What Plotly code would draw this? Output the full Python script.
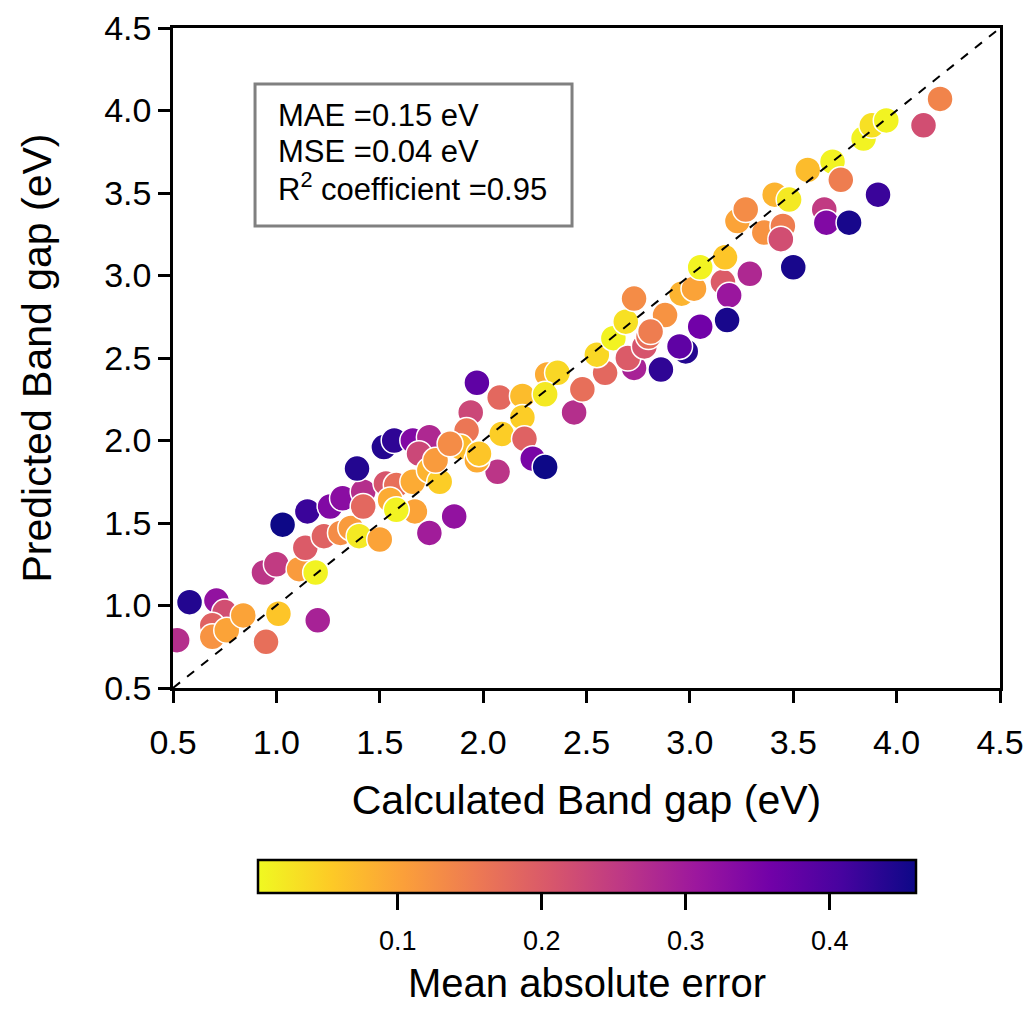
import plotly.graph_objects as go

# Calculated band gap (eV)
calc = [0.52, 0.58, 0.71, 0.75, 0.69, 0.69, 0.76, 0.84, 1.01, 0.95,
        1.20, 0.94, 1.00, 1.11, 1.19, 1.14, 1.23, 1.31, 1.36, 1.40,
        1.50, 1.03, 1.15, 1.26, 1.32, 1.42, 1.42, 1.39, 1.52, 1.57,
        1.66, 1.74, 1.69, 1.53, 1.58, 1.66, 1.74, 1.79, 1.67, 1.74,
        1.86, 1.55, 1.58, 1.97, 2.08, 1.94, 1.92, 2.19, 2.19, 2.31,
        2.36, 2.30, 2.09, 2.20, 2.07, 2.24, 2.30, 1.89, 1.97, 1.77,
        1.84, 1.98, 2.44, 2.48, 2.59, 2.55, 2.63, 2.69, 2.73, 2.88,
        2.96, 3.02, 3.16, 3.29, 3.19, 3.18, 3.05, 2.98, 2.95, 2.86,
        2.73, 2.70, 2.78, 2.80, 2.81, 3.05, 3.17, 3.23, 3.27, 3.36,
        3.45, 3.44, 3.50, 3.41, 3.48, 3.57, 3.69, 3.73, 3.91, 3.65,
        3.66, 3.77, 3.84, 3.88, 3.95, 4.13, 4.21]
# Predicted band gap (eV)
pred = [0.79, 1.02, 1.03, 0.96, 0.88, 0.81, 0.85, 0.94, 0.95, 0.78,
        0.91, 1.20, 1.25, 1.22, 1.20, 1.35, 1.42, 1.44, 1.47, 1.42,
        1.40, 1.49, 1.57, 1.60, 1.65, 1.69, 1.60, 1.83, 1.96, 2.00,
        2.00, 2.02, 1.92, 1.74, 1.73, 1.75, 1.82, 1.75, 1.57, 1.44,
        1.54, 1.64, 1.58, 2.35, 2.26, 2.17, 2.06, 2.27, 2.14, 2.40,
        2.41, 2.28, 2.04, 2.01, 1.81, 1.89, 1.84, 1.96, 1.88, 1.88,
        1.98, 1.92, 2.17, 2.31, 2.41, 2.52, 2.62, 2.72, 2.86, 2.76,
        2.89, 2.92, 2.96, 3.01, 2.88, 2.73, 2.69, 2.54, 2.57, 2.43,
        2.44, 2.50, 2.57, 2.63, 2.66, 3.05, 3.11, 3.33, 3.40, 3.26,
        3.30, 3.22, 3.05, 3.49, 3.46, 3.64, 3.69, 3.58, 3.49, 3.40,
        3.32, 3.32, 3.83, 3.91, 3.94, 3.91, 4.07]
# Mean absolute error (colour)
mae = [0.27, 0.44, 0.32, 0.22, 0.19, 0.12, 0.10, 0.10, 0.06, 0.17,
       0.29, 0.26, 0.25, 0.11, 0.01, 0.20, 0.19, 0.13, 0.11, 0.02,
       0.10, 0.46, 0.42, 0.34, 0.33, 0.27, 0.18, 0.44, 0.44, 0.43,
       0.34, 0.28, 0.23, 0.21, 0.17, 0.09, 0.08, 0.05, 0.10, 0.30,
       0.32, 0.09, 0.01, 0.38, 0.18, 0.23, 0.16, 0.07, 0.05, 0.09,
       0.04, 0.02, 0.05, 0.19, 0.26, 0.35, 0.46, 0.07, 0.09, 0.11,
       0.13, 0.06, 0.27, 0.17, 0.18, 0.04, 0.01, 0.03, 0.13, 0.12,
       0.08, 0.10, 0.20, 0.28, 0.31, 0.45, 0.36, 0.44, 0.38, 0.43,
       0.29, 0.20, 0.21, 0.17, 0.15, 0.01, 0.06, 0.10, 0.13, 0.12,
       0.15, 0.22, 0.45, 0.08, 0.02, 0.07, 0.01, 0.15, 0.42, 0.25,
       0.34, 0.45, 0.01, 0.03, 0.01, 0.22, 0.14]

axis_ticks = [0.5, 1.0, 1.5, 2.0, 2.5, 3.0, 3.5, 4.0, 4.5]
cbar_ticks = [0.1, 0.2, 0.3, 0.4]
diag = [0.5, 4.5]
CMIN, CMAX = 0.003, 0.46

FONT = "Liberation Sans, Arial, Helvetica, sans-serif"

CB_X, CB_LEN = 0.5006, 0.7957

fig = go.Figure()
fig.add_trace(go.Scatter(
    x=calc, y=pred, mode="markers",
    marker=dict(
        size=26, color=mae, colorscale="Plasma_r", cmin=CMIN, cmax=CMAX,
        line=dict(color="white", width=1.5), opacity=1,
        colorbar=dict(
            orientation="h", x=CB_X, xanchor="center", y=-0.2606, yanchor="top",
            len=CB_LEN, lenmode="fraction", thickness=33, thicknessmode="pixels",
            outlinewidth=2.5, outlinecolor="black", xpad=0, ypad=0,
            tickvals=cbar_ticks, showticklabels=False,
            ticks="outside", ticklen=16, tickwidth=2.5, tickcolor="black",
        ),
    ),
    showlegend=False, hoverinfo="skip",
))
fig.add_trace(go.Scatter(
    x=diag, y=diag, mode="lines",
    line=dict(color="black", dash="dash", width=2),
    showlegend=False, hoverinfo="skip",
))

axis_common = dict(
    range=[0.5, 4.5], tickvals=axis_ticks, ticktext=[f"{v:.1f}" for v in axis_ticks],
    showline=True, linecolor="black", linewidth=2.5, mirror=True,
    ticks="outside", ticklen=12, tickwidth=2.5, tickcolor="black",
    showgrid=False, zeroline=False, automargin=False,
    tickfont=dict(size=34, color="black", family=FONT),
)
fig.update_xaxes(**axis_common, ticklabelstandoff=10,
                 title=dict(text="Calculated Band gap (eV)", standoff=26,
                            font=dict(size=41, color="black", family=FONT)))
fig.update_yaxes(**axis_common,
                 title=dict(text="Predicted Band gap (eV)", standoff=40,
                            font=dict(size=41, color="black", family=FONT)))

# colorbar tick labels and title
for v in cbar_ticks:
    xp = CB_X - CB_LEN / 2 + (v - CMIN) / (CMAX - CMIN) * CB_LEN
    fig.add_annotation(text=f"{v:.1f}", xref="paper", yref="paper", x=xp, y=-0.3840,
                       xanchor="center", yanchor="middle", showarrow=False,
                       font=dict(size=27, color="black", family=FONT))
fig.add_annotation(text="Mean absolute error", xref="paper", yref="paper",
                   x=CB_X, y=-0.4470, xanchor="center", yanchor="middle", showarrow=False,
                   font=dict(size=40, color="black", family=FONT))

# stats box
fig.add_shape(type="rect", xref="paper", yref="paper",
              x0=0.0992, x1=0.4825, y0=0.70, y1=0.9152,
              line=dict(color="#808080", width=3), fillcolor="white", layer="above")
stats = ["MAE =0.15 eV", "MSE =0.04 eV", "R<sup>2</sup> coefficient =0.95"]
stat_y = [0.868, 0.8136, 0.7591]
for txt, yy in zip(stats, stat_y):
    fig.add_annotation(text=txt, xref="paper", yref="paper", x=0.1245, y=yy,
                       xanchor="left", yanchor="middle", showarrow=False,
                       font=dict(size=31, color="black", family=FONT))

# page body has an 8px margin: size the figure so nothing overflows the window
fig.update_layout(
    width=1016, height=997,
    margin=dict(l=165, r=24, t=20, b=317, autoexpand=False),
    paper_bgcolor="white", plot_bgcolor="white",
    font=dict(family=FONT, color="black"),
)
fig.write_html("out.html")
